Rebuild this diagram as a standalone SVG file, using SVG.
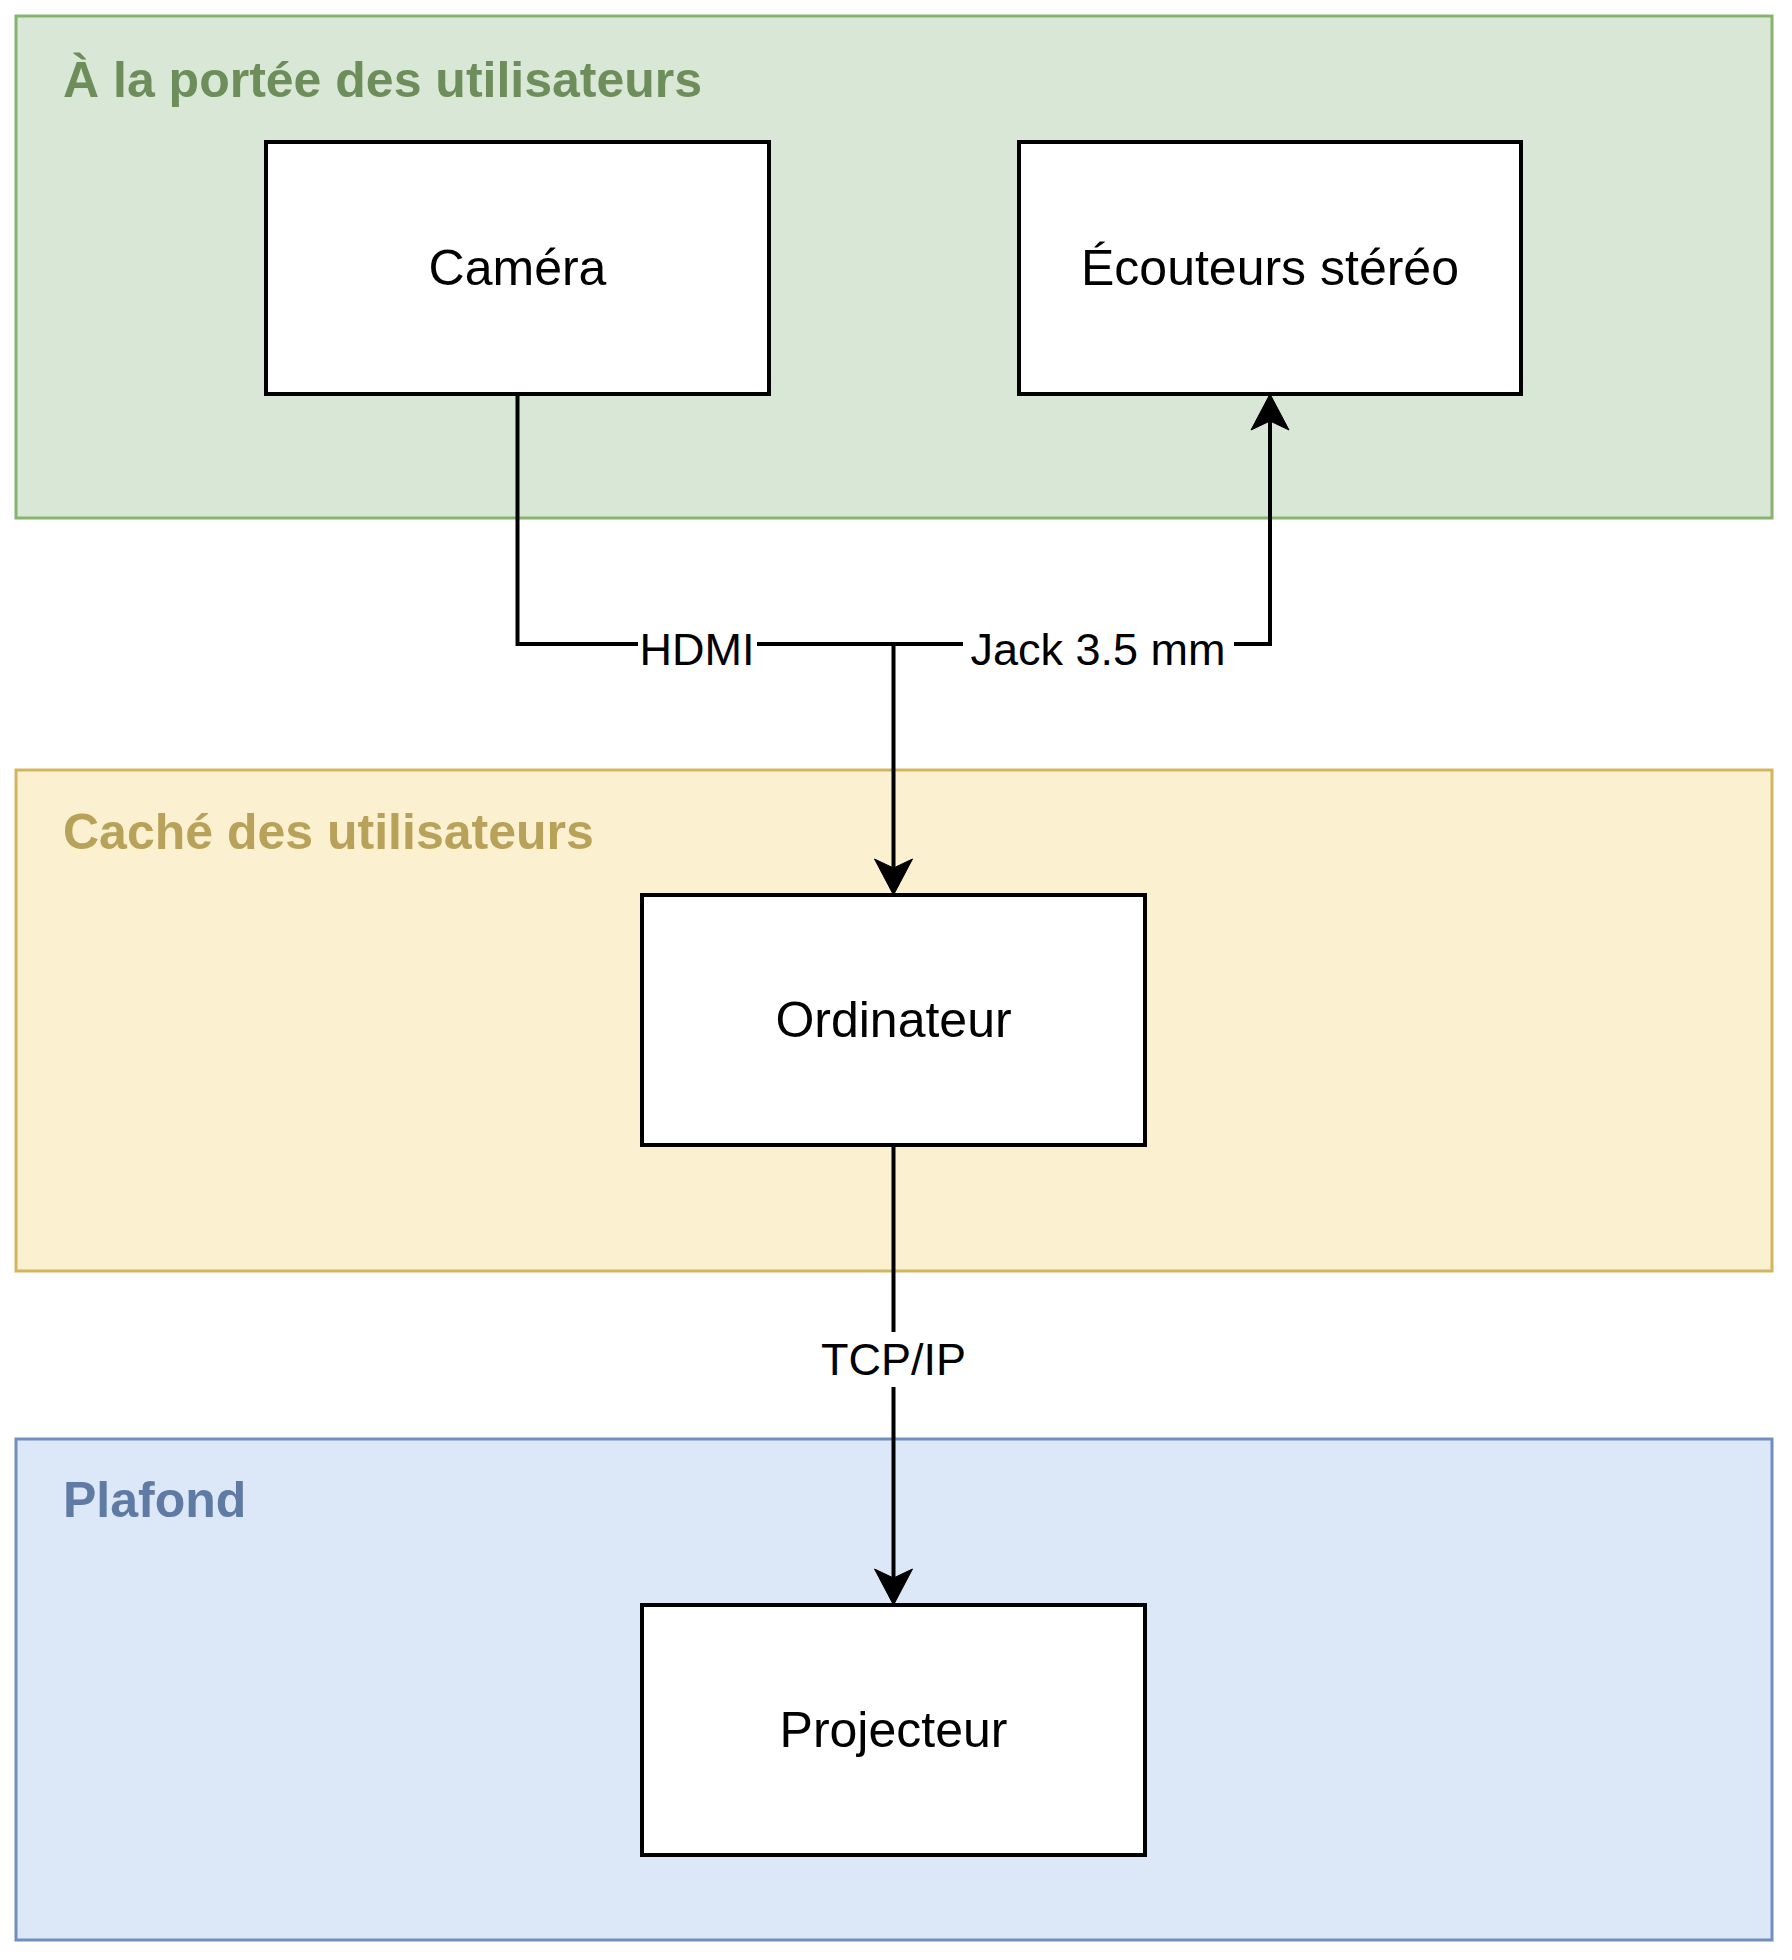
<svg xmlns="http://www.w3.org/2000/svg" width="1792" height="1960" viewBox="0 0 1792 1960">
  <style>
    .title { font-family: "Liberation Sans", Arial, sans-serif; font-size: 50px; font-weight: bold; }
    .node rect { fill: #ffffff; stroke: #000000; stroke-width: 4; }
    .node text { font-family: "Liberation Sans", Arial, sans-serif; font-size: 50px; fill: #000000; text-anchor: middle; }
    .edge { fill: none; stroke: #000000; stroke-width: 4; }
    .lbl-bg { fill: #ffffff; }
    .lbl { font-family: "Liberation Sans", Arial, sans-serif; font-size: 45px; fill: #000000; text-anchor: middle; }
  </style>
  <defs>
    <marker id="arrow" markerUnits="userSpaceOnUse" viewBox="-40 -22 44 44" refX="-27" refY="0" markerWidth="44" markerHeight="44" orient="auto">
      <path d="M0,0 L-36,-19 L-27,0 L-36,19 Z" fill="#000000" stroke="#000000" stroke-width="1" stroke-linejoin="miter"/>
    </marker>
  </defs>
  <rect width="1792" height="1960" fill="#ffffff"/>

  <g id="zone-portee">
    <rect x="16" y="16" width="1756" height="502" fill="#d9e7d6" stroke="#86b46e" stroke-width="3"/>
    <text class="title" x="63" y="97" fill="#6d8e5a">À la portée des utilisateurs</text>
  </g>
  <g id="zone-cache">
    <rect x="16" y="770" width="1756" height="501" fill="#fbf0d0" stroke="#d3b560" stroke-width="3"/>
    <text class="title" x="63" y="849" fill="#b8a159">Caché des utilisateurs</text>
  </g>
  <g id="zone-plafond">
    <rect x="16" y="1439" width="1756" height="501" fill="#dce7f8" stroke="#718ebc" stroke-width="3"/>
    <text class="title" x="63" y="1517" fill="#5f7aa3">Plafond</text>
  </g>

  <g id="camera" class="node">
    <rect x="266" y="142" width="503" height="252"/>
    <text x="517.5" y="285">Caméra</text>
  </g>
  <g id="ecouteurs" class="node">
    <rect x="1019" y="142" width="502" height="252"/>
    <text x="1270" y="285">Écouteurs stéréo</text>
  </g>
  <g id="ordinateur" class="node">
    <rect x="642" y="895" width="503" height="250"/>
    <text x="893.5" y="1037">Ordinateur</text>
  </g>
  <g id="projecteur" class="node">
    <rect x="642" y="1605" width="503" height="250"/>
    <text x="893.5" y="1747">Projecteur</text>
  </g>

  <g id="connectors">
    <path class="edge" d="M517.5,394 V644 H893.5 V868" marker-end="url(#arrow)"/>
    <path class="edge" d="M893.5,644 H1270 V421" marker-end="url(#arrow)"/>
    <path class="edge" d="M893.5,1145 V1578" marker-end="url(#arrow)"/>
    <rect class="lbl-bg" x="638" y="628" width="119" height="46"/>
    <text class="lbl" x="697" y="665">HDMI</text>
    <rect class="lbl-bg" x="963" y="628" width="271" height="46"/>
    <text class="lbl" x="1098" y="665">Jack 3.5 mm</text>
    <rect class="lbl-bg" x="816" y="1332" width="155" height="55"/>
    <text class="lbl" x="893.5" y="1375">TCP/IP</text>
  </g>
</svg>
